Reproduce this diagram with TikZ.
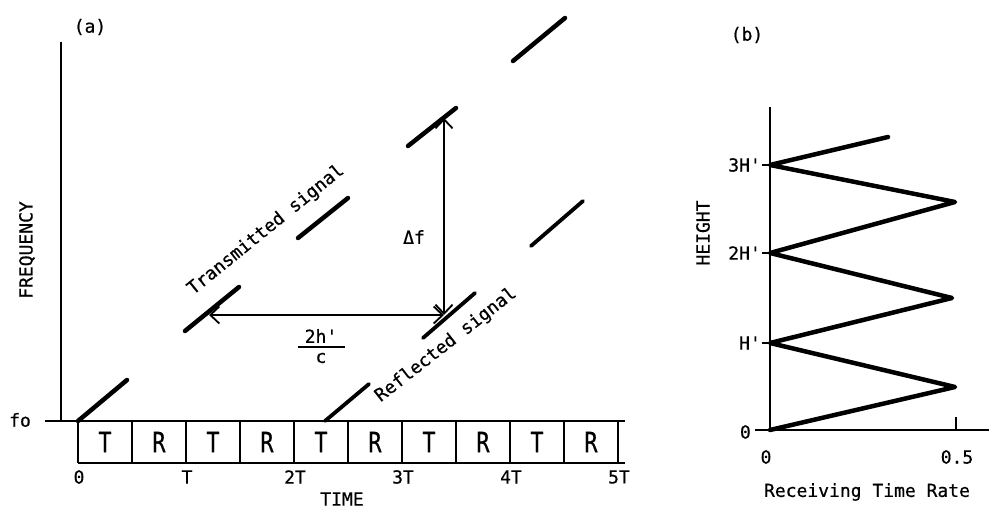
\documentclass[tikz,border=0pt]{standalone}
\usepackage{fontspec}
\setmainfont{DejaVu Sans Mono}[Ligatures=TeXOff, FakeBold=0.6]
\usetikzlibrary{arrows.meta}
\tikzset{
  sig/.style={line width=4.5pt, line cap=round},
  axis/.style={line width=1.8pt},
  lbl/.style={font=\fontsize{18}{20}\selectfont, inner sep=0pt},
  cell/.style={font=\fontsize{28}{30}\selectfont, inner sep=0pt, xscale=0.78}
}
\begin{document}
\begin{tikzpicture}[x=1pt,y=-1pt,>={Straight Barb[length=9pt,width=17pt]}]
  \useasboundingbox (0,0) rectangle (989,510);
  % (a) frequency against time
  \node[lbl] (tagA) at (90,27) {(a)};
  \draw[axis] (61,42) -- (61,421);
  \draw[axis] (45,421) -- (625,421);
  \draw[axis] (78,463) -- (625,463);
  \foreach \i in {0,1,...,10}
    \draw[axis] (78+54*\i,421) -- (78+54*\i,463);
  \foreach \i/\lab in {0/T,1/R,2/T,3/R,4/T,5/R,6/T,7/R,8/T,9/R}
    \node[cell] (cell\i) at (105+54*\i,442) {\lab};
  \foreach \i/\lab in {0/0,1/T,2/2T,3/3T,4/4T,5/5T}
    \node[lbl] (tick\i) at (79+108*\i,477) {\lab};
  \node[lbl] (time) at (342,499) {TIME};
  \node[lbl, rotate=90] (freq) at (27,250) {FREQUENCY};
  \node[lbl] (fo) at (20,420) {fo};

  \foreach \xa/\ya/\xb/\yb in {78/421/127/380, 185/331/239/287, 298/238/348/198, 408/146/456/108, 513/61/565/18}
    \draw[sig] (\xa,\ya) -- (\xb,\yb);
  \foreach \xa/\ya/\xb/\yb in {325/421/369/384, 423/338/475/293, 531/246/583/201}
    \draw[sig, line width=3.8pt] (\xa,\ya) -- (\xb,\yb);
  \node[lbl, rotate=39] (tsig) at (266,230) {Transmitted signal};
  \node[lbl, rotate=38] (rsig) at (446,345) {Reflected signal};

  \coordinate (tx) at (209,315);
  \coordinate (rx) at (444,315);
  \coordinate (ty) at (444,118);
  \draw[<->, line width=1.8pt] (tx) -- (rx);
  \draw[<->, line width=1.8pt] (rx) -- (ty);
  \node[lbl] (df) at (414,237) {Δf};
  \node[lbl] (num) at (321,336) {2h'};
  \node[lbl] (den) at (321,358) {c};
  \draw[axis] (298,347) -- (345,347);

  % (b) receiving time rate against height
  \node[lbl] (tagB) at (747,35) {(b)};
  \draw[axis] (770,107) -- (770,430);
  \draw[axis] (755,430) -- (989,430);
  \draw[axis] (956,417) -- (956,430);
  \foreach \y in {343,253,165}
    \draw[axis] (762,\y) -- (770,\y);
  \draw[sig, line join=round] (770,430) -- (955,387) -- (770,343) -- (952,298)
    -- (770,253) -- (955,202) -- (770,165) -- (888,137);
  \foreach \y/\lab in {343/H',253/2H',165/3H'}
    \node[lbl, anchor=east] (lev\lab) at (761,\y) {\lab};
  \node[lbl, anchor=east] (lev0) at (751,432) {0};
  \node[lbl] (x0) at (766,457) {0};
  \node[lbl] (x5) at (957,457) {0.5};
  \node[lbl] (rate) at (867,492) {Receiving Time Rate};
  \node[lbl, rotate=90] (height) at (703,233) {HEIGHT};
\end{tikzpicture}
\end{document}
